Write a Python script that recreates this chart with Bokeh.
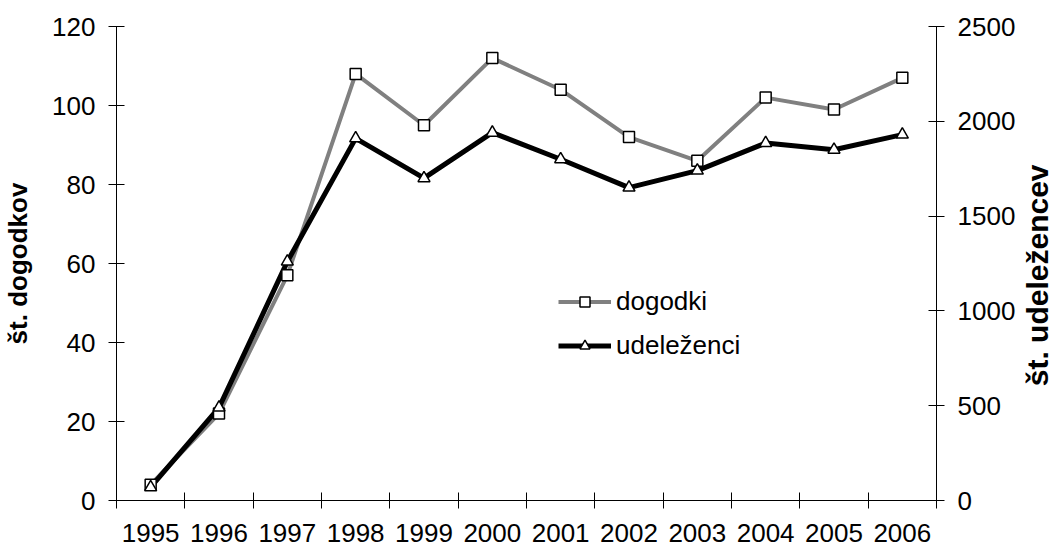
import math
import numpy as np
from bokeh.plotting import figure
from bokeh.layouts import row
from bokeh.models import (Range1d, LinearAxis, FixedTicker, Legend, LegendItem, Label)
from bokeh.embed import file_html
from bokeh.resources import INLINE

# ---- data ----
years = ["1995", "1996", "1997", "1998", "1999", "2000",
         "2001", "2002", "2003", "2004", "2005", "2006"]
dogodki = [4, 22, 57, 108, 95, 112, 104, 92, 86, 102, 99, 107]
udelezenci = [70, 490, 1260, 1910, 1700, 1940, 1800, 1650, 1740, 1885, 1850, 1930]
left_ticks = [0, 20, 40, 60, 80, 100, 120]
right_ticks = [0, 500, 1000, 1500, 2000, 2500]
left_title = "št. dogodkov"
right_title = "št. udeležencev"

FONT = "Liberation Sans"

n = len(years)
xpos = (np.arange(n) + 0.5).tolist()

p = figure(width=1018, height=554, output_backend="svg", toolbar_location=None,
           x_range=Range1d(0, n), y_range=Range1d(0, 120),
           x_axis_type=None, y_axis_type=None,
           min_border_left=115, min_border_right=79,
           min_border_top=26, min_border_bottom=54)
p.outline_line_color = None
p.background_fill_color = "white"
p.border_fill_color = "white"
p.extra_y_ranges = {"right": Range1d(0, 2500)}

# ---- axes ----
xaxis = LinearAxis(ticker=FixedTicker(ticks=xpos, minor_ticks=list(range(n + 1))),
                   major_label_overrides={x: y for x, y in zip(xpos, years)})
xaxis.major_tick_line_color = None
xaxis.major_tick_in = 0
xaxis.major_tick_out = 8
xaxis.minor_tick_in = 8
xaxis.minor_tick_out = 8
xaxis.minor_tick_line_color = "black"
xaxis.major_label_standoff = 15
p.add_layout(xaxis, "below")

laxis = LinearAxis(ticker=FixedTicker(ticks=left_ticks), axis_label=left_title)
laxis.major_tick_in = 8
laxis.major_tick_out = 8
laxis.minor_tick_line_color = None
laxis.major_label_standoff = 13
laxis.axis_label_standoff = 16
laxis.axis_label_text_font_size = "26px"
p.add_layout(laxis, "left")

raxis = LinearAxis(y_range_name="right", ticker=FixedTicker(ticks=right_ticks))
raxis.major_tick_in = 8
raxis.major_tick_out = 8
raxis.minor_tick_line_color = None
raxis.major_label_standoff = 13
p.add_layout(raxis, "right")

for ax in (xaxis, laxis, raxis):
    ax.axis_line_color = "black"
    ax.axis_line_width = 1
    ax.major_label_text_font = FONT
    ax.major_label_text_font_size = "26px"
    ax.major_label_text_color = "black"
    ax.axis_label_text_font = FONT
    ax.axis_label_text_font_style = "bold"
    ax.axis_label_text_color = "black"

p.xgrid.visible = False
p.ygrid.visible = False

# ---- series ----
l1 = p.line(xpos, dogodki, line_color="#808080", line_width=4)
l2 = p.line(xpos, udelezenci, line_color="black", line_width=5, y_range_name="right")
s1 = p.scatter(xpos, dogodki, marker="square", size=11, fill_color="white",
               line_color="black", line_width=1.5)
s2 = p.scatter(xpos, udelezenci, marker="triangle", size=12, fill_color="white",
               line_color="black", line_width=1.5, y_range_name="right")

legend = Legend(items=[LegendItem(label="dogodki", renderers=[l1, s1]),
                       LegendItem(label="udeleženci", renderers=[l2, s2])],
                location=(442, 139))
legend.padding = 0
legend.margin = 0
legend.spacing = 13
legend.glyph_width = 53
legend.glyph_height = 25
legend.label_height = 25
legend.label_standoff = 5
legend.label_text_font = FONT
legend.label_text_font_size = "26px"
legend.label_text_color = "black"
legend.border_line_color = None
legend.background_fill_alpha = 0
p.add_layout(legend, "center")

# ---- right-hand axis title in a narrow side panel (reads bottom to top) ----
side = figure(width=38, height=554, output_backend="svg", toolbar_location=None,
              x_range=Range1d(0, 1), y_range=Range1d(0, 1),
              x_axis_type=None, y_axis_type=None,
              min_border=0, min_border_left=0, min_border_right=0,
              min_border_top=0, min_border_bottom=0)
side.outline_line_color = None
side.xgrid.visible = False
side.ygrid.visible = False
side.background_fill_color = "white"
side.border_fill_color = "white"
side.add_layout(Label(x=0.5, y=0.475, text=right_title, angle=math.pi / 2,
                      text_align="center", text_baseline="middle",
                      text_font=FONT, text_font_style="bold",
                      text_font_size="30px", text_color="black"))

layout = row(p, side, spacing=0)
open("out.html", "w").write(file_html(layout, INLINE))
